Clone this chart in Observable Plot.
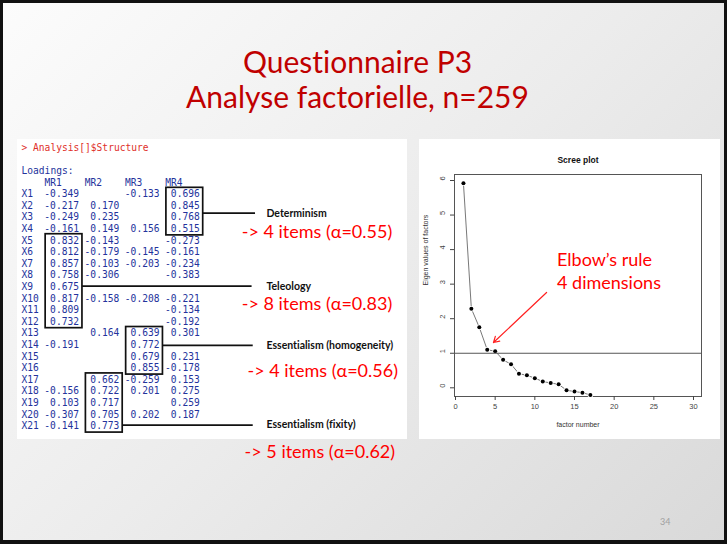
<!DOCTYPE html>
<html>
<head>
<meta charset="utf-8">
<script src="https://cdn.jsdelivr.net/npm/d3@7"></script>
<script src="https://cdn.jsdelivr.net/npm/@observablehq/plot@0.6"></script>
<style>
  html, body { margin: 0; padding: 0; background: #fff; }
  * { font-variant-ligatures: none; }
  svg text { font-variant-ligatures: none; }
  #slide { position: relative; width: 727px; height: 544px; overflow: hidden;
    background: linear-gradient(135deg, #fcfcfc 0%, #ececec 50%, #d9d9d9 100%); font-family: Lato, sans-serif; }
  #border { position: absolute; left: 0; top: 0; width: 727px; height: 544px; box-sizing: border-box;
    border: 3px solid #111; border-bottom-width: 4px; pointer-events: none; z-index: 10; }
  .abs { position: absolute; }
  #title { left: 0; width: 715px; top: 44px; text-align: center; color: #c00000; font-size: 30px; font-weight: 400; line-height: 35px; }
  #tablePanel { left: 17px; top: 139px; width: 390px; height: 300px; background: #fff; }
  #elbow { left: 557px; top: 248px; color: #ff0000; font-size: 18px; line-height: 23px; z-index: 5; white-space: nowrap; }
  #pageNo { left: 660px; top: 516px; color: #a0a0a0; font-size: 9px; }
</style>
</head>
<body>
<div id="slide">
  <div id="title" class="abs">Questionnaire P3<br>Analyse factorielle, n=259</div>
  <div id="tablePanel" class="abs"></div>
  <div id="tableHost" class="abs" style="left:17px;top:139px;"></div>
  <div id="screeHost" class="abs" style="left:419px;top:139px;"></div>
  <div id="elbow" class="abs">Elbow’s rule<br>4 dimensions</div>
  <div id="pageNo" class="abs">34</div>
  <div id="border"></div>
</div>
<script>
// ---------------- DATA ----------------
const command = "> Analysis[]$Structure";
const loadingsTitle = "Loadings:";
const columns = ["MR1", "MR2", "MR3", "MR4"];
const items = ["X1","X2","X3","X4","X5","X6","X7","X8","X9","X10","X11","X12","X13","X14","X15","X16","X17","X18","X19","X20","X21"];
const mr1 = [-0.349,-0.217,-0.249,-0.161,0.832,0.812,0.857,0.758,0.675,0.817,0.809,0.732,null,-0.191,null,null,null,-0.156,0.103,-0.307,-0.141];
const mr2 = [null,0.170,0.235,0.149,-0.143,-0.179,-0.103,-0.306,null,-0.158,null,null,0.164,null,null,null,0.662,0.722,0.717,0.705,0.773];
const mr3 = [-0.133,null,null,0.156,null,-0.145,-0.203,null,null,-0.208,null,null,0.639,0.772,0.679,0.855,-0.259,0.201,null,0.202,null];
const mr4 = [0.696,0.845,0.768,0.515,-0.273,-0.161,-0.234,-0.383,null,-0.221,-0.134,-0.192,0.301,null,0.231,-0.178,0.153,0.275,0.259,0.187,null];

const factorNames = ["Determinism", "Teleology", "Essentialism (homogeneity)", "Essentialism (fixity)"];
const factorColumn = ["MR4", "MR1", "MR3", "MR2"];
const factorFirstItem = [1, 5, 13, 17];
const factorLastItem = [4, 12, 16, 21];
const factorNItems = [4, 8, 4, 5];
const factorAlpha = [0.55, 0.83, 0.56, 0.62];

const screeTitle = "Scree plot";
const screeXLabel = "factor number";
const screeYLabel = "Eigen values of factors";
const factorNumber = [1,2,3,4,5,6,7,8,9,10,11,12,13,14,15,16,17];
const eigenValues = [5.92,2.29,1.75,1.10,1.06,0.81,0.68,0.41,0.36,0.28,0.18,0.14,0.10,-0.07,-0.11,-0.14,-0.21];
const xTicks = [0,5,10,15,20,25,30];
const yTicks = [0,1,2,3,4,5,6];
const kaiserLine = [1];
const elbowArrow = [{fromX: 11.48, fromY: 2.76, toX: 4.79, toY: 1.31}];

// ---------------- LAYOUT (table) ----------------
const mono = "'DejaVu Sans Mono', 'Liberation Mono', monospace";
const blue = "#24339c";
const linkRow = [5.64, 11.93, 17.04, 23.9];
const linkEnd = [40.7, 40.1, 40.3, 40.3];
const redRow = [7.28, 13.45, 19.28, 26.24];
const redX = [38.3, 38.3, 39.3, 38.8];
const labelX = 42.6;

const cells = [];
[mr1, mr2, mr3, mr4].forEach((col, c) => {
  col.forEach((v, i) => { if (v != null) cells.push({row: 4 + i, col: c, text: v.toFixed(3)}); });
});
const rowLabels = items.map((name, i) => ({row: 4 + i, text: name}));
const headers = columns.map((name, c) => ({row: 3, col: c, text: name}));
const factors = factorNames.map((name, k) => {
  const c = columns.indexOf(factorColumn[k]);
  return {
    name, c,
    x1: 4.2 + 7 * c, x2: 10.6 + 7 * c,
    y1: 3 + factorFirstItem[k] - 0.55, y2: 3 + factorLastItem[k] + 0.55,
    link: linkRow[k], linkEnd: linkEnd[k],
    red: `-> ${factorNItems[k]} items (α=${factorAlpha[k].toFixed(2)})`,
    redRow: redRow[k], redX: redX[k]
  };
});

const tW = 395, tH = 340;
const table = Plot.plot({
  width: tW, height: tH,
  margin: 0,
  style: {background: "transparent", overflow: "visible"},
  x: {type: "linear", domain: [0, 10], range: [4, 4 + 57.5], axis: null},
  y: {type: "linear", domain: [0, 10], range: [8.3, 8.3 + 116], axis: null},
  marks: [
    Plot.text([command], {x: 0, y: 0, text: d => d, textAnchor: "start", fontFamily: mono, fontSize: 9.6, fill: "#e0302a"}),
    Plot.text([loadingsTitle], {x: 0, y: 2, text: d => d, textAnchor: "start", fontFamily: mono, fontSize: 9.6, fill: blue}),
    Plot.text(headers, {x: d => 4 + 7 * d.col, y: "row", text: "text", textAnchor: "start", fontFamily: mono, fontSize: 9.6, fill: blue}),
    Plot.text(rowLabels, {x: 0, y: "row", text: "text", textAnchor: "start", fontFamily: mono, fontSize: 9.6, fill: blue}),
    Plot.text(cells, {x: d => 10 + 7 * d.col, y: "row", text: "text", textAnchor: "end", fontFamily: mono, fontSize: 9.6, fill: blue}),
    Plot.rect(factors, {x1: "x1", x2: "x2", y1: "y1", y2: "y2", fill: "none", stroke: "#111", strokeWidth: 1.7}),
    Plot.ruleY(factors, {y: "link", x1: "x2", x2: "linkEnd", stroke: "#111", strokeWidth: 1.7}),
    Plot.text(factors, {x: labelX, y: "link", text: "name", textAnchor: "start", fontFamily: "Lato, sans-serif", fontWeight: "bold", fontSize: 10.5, fill: "#111"}),
    Plot.text(factors, {x: "redX", y: "redRow", text: "red", textAnchor: "start", fontFamily: "Lato, sans-serif", fontSize: 18, fill: "#ff0000"})
  ]
});
document.getElementById("tableHost").appendChild(table);

// ---------------- SCREE PLOT ----------------
const scree = factorNumber.map((f, i) => ({f, e: eigenValues[i]}));
const sW = 301, sH = 300;
const screePlot = Plot.plot({
  width: sW, height: sH,
  marginLeft: 35, marginRight: 19, marginTop: 35, marginBottom: 43,
  style: {background: "#fff", overflow: "visible", fontFamily: "'Liberation Sans', Arial, sans-serif"},
  x: {type: "linear", domain: [0, 30], range: [36, 274]},
  y: {type: "linear", domain: [0, 6], range: [248.3, 41]},
  marks: [
    Plot.frame({stroke: "#555", strokeWidth: 1}),
    Plot.axisX({ticks: xTicks, tickSize: 4, tickPadding: 3, fontSize: 7.5, color: "#444", label: null}),
    Plot.axisY({ticks: yTicks, tickSize: 4, tickFormat: () => "", label: null, color: "#444"}),
    Plot.text(yTicks, {y: d => d, frameAnchor: "left", text: d => String(d), rotate: -90, dx: -12, fontSize: 7.5, fill: "#444"}),
    Plot.line(scree, {x: "f", y: "e", stroke: "#555", strokeWidth: 0.8}),
    Plot.dot(scree, {x: "f", y: "e", r: 2, fill: "#000", stroke: "#fff", strokeWidth: 1.6, paintOrder: "stroke"}),
    Plot.ruleY(kaiserLine, {stroke: "#555", strokeWidth: 1}),
    Plot.arrow(elbowArrow, {x1: "fromX", y1: "fromY", x2: "toX", y2: "toY", stroke: "#ff2020", strokeWidth: 1.2, headLength: 8}),
    Plot.text([screeTitle], {frameAnchor: "top", dy: -18, text: d => d, fontWeight: "bold", fontSize: 8.5, fill: "#111"}),
    Plot.text([screeXLabel], {frameAnchor: "bottom", dy: 30, text: d => d, fontSize: 7, fill: "#333"}),
    Plot.text([screeYLabel], {frameAnchor: "left", dx: -29, rotate: -90, text: d => d, fontSize: 7, fill: "#333"})
  ]
});
document.getElementById("screeHost").appendChild(screePlot);
</script>
</body>
</html>
